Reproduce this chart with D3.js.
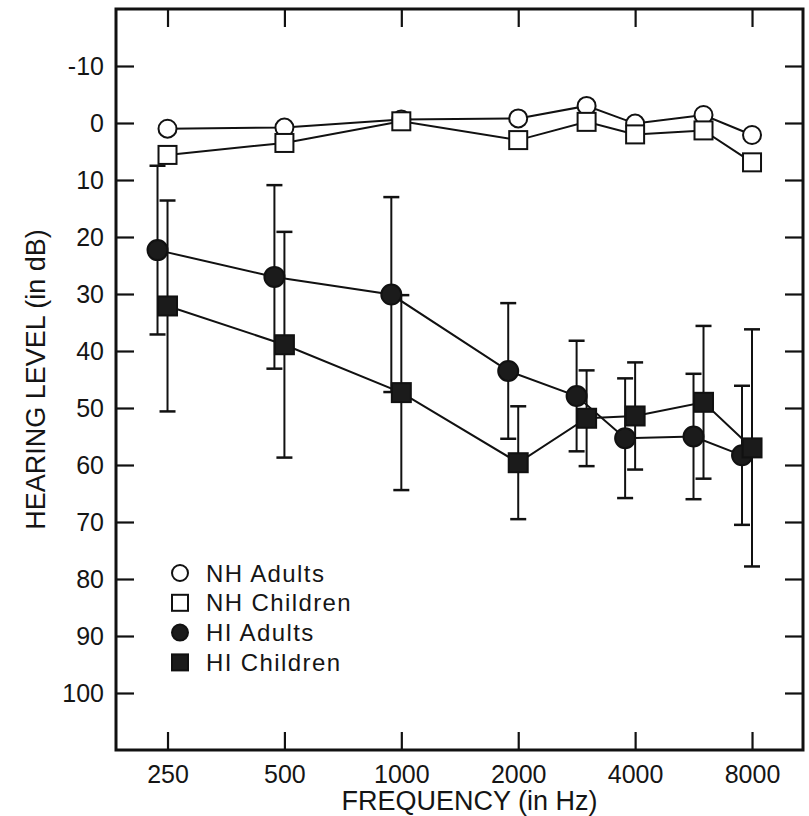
<!DOCTYPE html>
<html lang="en">
<head>
<meta charset="UTF-8">
<title>Hearing level by frequency</title>
<script src="https://d3js.org/d3.v7.min.js"></script>
<style>
  body { margin: 0; background: #fff; }
  svg { font-family: "Liberation Sans", Arial, sans-serif; }
  svg text { fill: #151515; }
</style>
</head>
<body>
<svg width="809" height="816"></svg>
<script>
  // frequencies (Hz) and tick values
  const freqs = [250, 500, 1000, 2000, 3000, 4000, 6000, 8000];
  const xTicks = [250, 500, 1000, 2000, 4000, 8000];
  const yTicks = [-10, 0, 10, 20, 30, 40, 50, 60, 70, 80, 90, 100];

  // mean hearing level (dB) and standard deviations
  const nhAdults     = [1.0, 0.8, -0.6, -0.8, -3.0, 0.1, -1.4, 2.1];
  const nhChildren   = [5.6, 3.5, -0.3, 3.0, -0.2, 2.0, 1.3, 6.9];
  const hiAdults     = [22.3, 27.0, 30.1, 43.5, 47.9, 55.3, 55.0, 58.3];
  const hiAdultsSd   = [14.8, 16.1, 17.1, 11.9, 9.7, 10.5, 11.0, 12.2];
  const hiChildren   = [32.1, 38.9, 47.3, 59.6, 51.8, 51.4, 49.0, 57.0];
  const hiChildrenSd = [18.5, 19.8, 17.1, 9.9, 8.4, 9.4, 13.4, 20.8];

  const legendNames = ["NH Adults", "NH Children", "HI Adults", "HI Children"];

  const margin = {top: 9, right: 6, bottom: 66, left: 116},
        width = 809 - margin.left - margin.right,
        height = 816 - margin.top - margin.bottom;

  const svg = d3.select("svg")
    .append("g")
    .attr("transform", `translate(${margin.left},${margin.top})`);

  const x = d3.scaleLog().base(2)
    .domain([184.2, 10823])
    .range([0, width]);

  const y = d3.scaleLinear()
    .domain([-20, 110])
    .range([0, height]);

  const series = [
    {name: "NH Adults", values: nhAdults, shape: "circle", filled: false, dx: 0, size: 9},
    {name: "NH Children", values: nhChildren, shape: "square", filled: false, dx: 0, size: 9},
    {name: "HI Adults", values: hiAdults, sd: hiAdultsSd, shape: "circle", filled: true, dx: -10, size: 10},
    {name: "HI Children", values: hiChildren, sd: hiChildrenSd, shape: "square", filled: true, dx: 0, size: 9.5}
  ];

  const tickLen = 18;

  // axes: ticks pointing inward on all four sides
  svg.append("g")
    .attr("transform", `translate(0,${height})`)
    .call(d3.axisBottom(x).tickValues(xTicks).tickFormat(d3.format("d"))
      .tickSizeInner(-tickLen).tickSizeOuter(0).tickPadding(15));
  svg.append("g")
    .call(d3.axisTop(x).tickValues(xTicks).tickFormat("")
      .tickSizeInner(-tickLen).tickSizeOuter(0));
  svg.append("g")
    .call(d3.axisLeft(y).tickValues(yTicks).tickFormat(d => d)
      .tickSizeInner(-tickLen).tickSizeOuter(0).tickPadding(12));
  svg.append("g")
    .attr("transform", `translate(${width},0)`)
    .call(d3.axisRight(y).tickValues(yTicks).tickFormat("")
      .tickSizeInner(-tickLen).tickSizeOuter(0));

  svg.selectAll(".domain").remove();
  svg.selectAll(".tick line").attr("stroke", "#111").attr("stroke-width", 2.2);
  svg.selectAll(".tick text")
    .attr("font-size", 25)
    .attr("font-family", "'Liberation Sans', Arial, sans-serif")
    .attr("fill", "#151515");

  // frame
  svg.append("rect")
    .attr("width", width)
    .attr("height", height)
    .attr("fill", "none")
    .attr("stroke", "#111")
    .attr("stroke-width", 3);

  // axis titles
  svg.append("text")
    .attr("x", width / 2 + 10)
    .attr("y", height + 60)
    .attr("text-anchor", "middle")
    .attr("font-size", 27)
    .text("FREQUENCY (in Hz)");

  svg.append("text")
    .attr("transform", "rotate(-90)")
    .attr("x", -height / 2)
    .attr("y", -71)
    .attr("text-anchor", "middle")
    .attr("font-size", 27)
    .text("HEARING LEVEL (in dB)");

  const line = d3.line()
    .x(d => x(d.f) + d.dx)
    .y(d => y(d.v));

  function points(s) {
    return freqs.map((f, i) => ({f, v: s.values[i], sd: s.sd ? s.sd[i] : 0, dx: s.dx}));
  }

  function drawMarker(g, s, px, py, size) {
    const fill = s.filled ? "#1b1b1b" : "#fff";
    if (s.shape === "circle") {
      g.append("circle")
        .attr("cx", px).attr("cy", py).attr("r", size)
        .attr("fill", fill).attr("stroke", "#111").attr("stroke-width", 2);
    } else {
      g.append("rect")
        .attr("x", px - size).attr("y", py - size)
        .attr("width", size * 2).attr("height", size * 2)
        .attr("fill", fill).attr("stroke", "#111").attr("stroke-width", 2);
    }
  }

  // connecting lines
  series.forEach(s => {
    svg.append("path")
      .datum(points(s))
      .attr("fill", "none")
      .attr("stroke", "#111")
      .attr("stroke-width", 2)
      .attr("d", line);
  });

  // error bars (+/- 1 SD)
  const capW = 8;
  series.filter(s => s.sd).forEach(s => {
    const g = svg.append("g").attr("stroke", "#111").attr("stroke-width", 2);
    points(s).forEach(d => {
      const px = x(d.f) + d.dx;
      g.append("line")
        .attr("x1", px).attr("x2", px)
        .attr("y1", y(d.v - d.sd)).attr("y2", y(d.v + d.sd));
      [d.v - d.sd, d.v + d.sd].forEach(v => {
        g.append("line")
          .attr("x1", px - capW).attr("x2", px + capW)
          .attr("y1", y(v)).attr("y2", y(v))
          .attr("stroke-width", 2.5);
      });
    });
  });

  // markers
  series.forEach(s => {
    const g = svg.append("g");
    points(s).forEach(d => drawMarker(g, s, x(d.f) + d.dx, y(d.v), s.size));
  });

  // legend
  const legend = svg.append("g");
  legendNames.forEach((name, i) => {
    const s = series.find(t => t.name === name);
    const cy = 564 + i * 29.8;
    drawMarker(legend, s, 64, cy, 8);
    legend.append("text")
      .attr("x", 90)
      .attr("y", cy)
      .attr("dy", "0.36em")
      .attr("font-size", 24)
      .attr("letter-spacing", 1.4)
      .text(name);
  });
</script>
</body>
</html>
